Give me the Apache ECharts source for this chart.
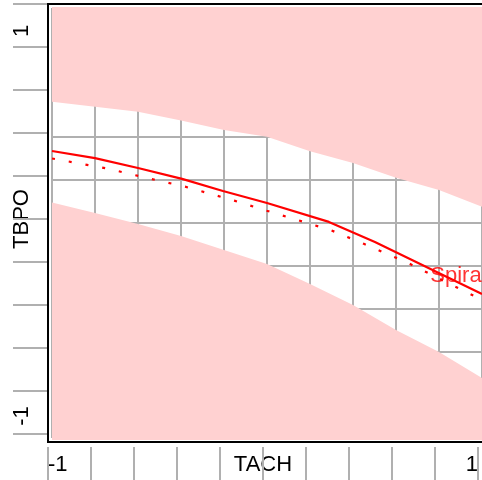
<!DOCTYPE html>
<html><head><meta charset="utf-8">
<script src="https://cdn.jsdelivr.net/npm/echarts@6/dist/echarts.min.js"></script>
<style>html,body{margin:0;padding:0;background:#fff}#c{width:482px;height:480px}</style>
</head><body><div id="c"></div>
<script>
// ---- data ----
const bandX     = [-1.01, -0.8, -0.6, -0.4, -0.2, 0.0, 0.2, 0.4, 0.6, 0.8, 1.0];
const bandUpper = [0.565, 0.541, 0.518, 0.477, 0.432, 0.401, 0.334, 0.279, 0.211, 0.153, 0.076];
const bandLower = [0.098, 0.047, -0.005, -0.060, -0.126, -0.191, -0.284, -0.381, -0.498, -0.600, -0.721];
const solidX  = [-1.0, -0.8, -0.6, -0.395, -0.205, 0.0, 0.288, 0.502, 1.0];
const solidY  = [0.335, 0.302, 0.256, 0.205, 0.149, 0.093, 0.005, -0.088, -0.330];
const dottedX = [-1.0, -0.746, -0.552, -0.381, -0.152, -0.001, 0.296, 0.453, 0.650, 1.0];
const dottedY = [0.300, 0.254, 0.208, 0.169, 0.104, 0.057, -0.033, -0.098, -0.183, -0.358];
const xTickLabels = { '-1': '-1', '1': '1' };
const yTickLabels = { '-1': '-1', '1': '1' };
const xTitle = 'TACH';
const yTitle = 'TBPO';
const curveLabel = 'Spira';
const curveLabelAt = [0.879, -0.2465];

const zip = (a, b) => a.map((v, i) => [v, b[i]]);
const FONT = "'Liberation Sans', Arial, sans-serif";
const FS = 22;
const PINK = '#ffd1d1';
const GRAY = '#b0b0b0';
const RED = '#ff0000';

const chart = echarts.init(document.getElementById('c'), null, { renderer: 'canvas' });
const noLine = { show: false, onZero: false };
const hidden = { show: false };
chart.setOption({
  animation: false,
  backgroundColor: '#fff',
  textStyle: { fontFamily: FONT },
  grid: [
    { left: 52, top: 8, width: 430, height: 430, containLabel: false, outerBoundsMode: 'none' },
    { left: 48, top: 4, width: 430, height: 430, containLabel: false, outerBoundsMode: 'none' },
    { left: 47, top: 31, width: 10, height: 385, containLabel: false, outerBoundsMode: 'none' },
    { left: 48, top: 4, width: 500, height: 438, show: true, borderColor: '#000', borderWidth: 2,
      backgroundColor: 'transparent', containLabel: false, outerBoundsMode: 'none', z: 10 }
  ],
  xAxis: [
    { gridIndex: 0, type: 'value', min: -1, max: 1, interval: 0.2,
      axisLine: noLine, axisTick: hidden, axisLabel: hidden,
      splitLine: { show: true, lineStyle: { color: GRAY, width: 2 } } },
    { gridIndex: 1, type: 'value', min: -1, max: 1, interval: 0.2, position: 'bottom', offset: 13,
      axisLine: noLine, splitLine: hidden,
      axisTick: { show: true, inside: false, length: 33, lineStyle: { color: GRAY, width: 2 } },
      axisLabel: { show: true, margin: 7, fontSize: FS, color: '#000', fontFamily: FONT,
        alignMinLabel: 'left', alignMaxLabel: 'right', hideOverlap: false,
        formatter: v => xTickLabels[String(Math.round(v * 10) / 10)] || '' },
      name: xTitle, nameLocation: 'middle', nameGap: 7, nameMoveOverlap: false,
      nameTextStyle: { fontSize: FS, color: '#000', fontFamily: FONT } },
    { gridIndex: 2, type: 'value', min: 0, max: 1, show: false, axisLine: noLine },
    { gridIndex: 3, type: 'value', min: 0, max: 1, show: false, axisLine: noLine }
  ],
  yAxis: [
    { gridIndex: 0, type: 'value', min: -1, max: 1, interval: 0.2,
      axisLine: noLine, axisTick: hidden, axisLabel: hidden,
      splitLine: { show: true, lineStyle: { color: GRAY, width: 2 } } },
    { gridIndex: 1, type: 'value', min: -1, max: 1, interval: 0.2, position: 'left', offset: 1,
      axisLine: noLine, splitLine: hidden, axisLabel: hidden,
      axisTick: { show: true, inside: false, length: 34, lineStyle: { color: GRAY, width: 2 } },
      name: yTitle, nameLocation: 'middle', nameGap: 14, nameRotate: 90, nameMoveOverlap: false,
      nameTextStyle: { fontSize: FS, color: '#000', fontFamily: FONT } },
    { gridIndex: 2, type: 'value', min: -1, max: 1, interval: 2, position: 'left',
      axisLine: noLine, axisTick: hidden, splitLine: hidden,
      axisLabel: { show: true, rotate: 90, margin: 14, fontSize: FS, color: '#000', fontFamily: FONT,
        formatter: v => yTickLabels[String(Math.round(v))] || '' } },
    { gridIndex: 3, type: 'value', min: 0, max: 1, show: false, axisLine: noLine }
  ],
  series: [
    { type: 'line', xAxisIndex: 0, yAxisIndex: 0, data: zip(bandX, bandUpper), symbol: 'none',
      showSymbol: false, clip: false, silent: true, lineStyle: { width: 0 },
      areaStyle: { color: PINK, opacity: 1, origin: 1.005 }, z: 1 },
    { type: 'line', xAxisIndex: 0, yAxisIndex: 0, data: zip(bandX, bandLower), symbol: 'none',
      showSymbol: false, clip: false, silent: true, lineStyle: { width: 0 },
      areaStyle: { color: PINK, opacity: 1, origin: -1.009 }, z: 1 },
    { type: 'line', xAxisIndex: 0, yAxisIndex: 0, data: zip(dottedX, dottedY), symbol: 'none',
      showSymbol: false, clip: false, silent: true,
      lineStyle: { color: RED, width: 2.2, type: [3, 14] }, z: 3 },
    { type: 'line', xAxisIndex: 0, yAxisIndex: 0, data: zip(solidX, solidY), symbol: 'none',
      showSymbol: false, clip: false, silent: true,
      lineStyle: { color: RED, width: 2.2 }, z: 4 },
    { type: 'scatter', xAxisIndex: 0, yAxisIndex: 0, data: [curveLabelAt], symbolSize: 1,
      itemStyle: { color: 'rgba(0,0,0,0)' }, silent: true, clip: false, z: 5,
      label: { show: true, position: 'inside', formatter: curveLabel, color: RED,
        fontSize: FS, fontFamily: FONT } }
  ]
});
</script>
</body></html>
